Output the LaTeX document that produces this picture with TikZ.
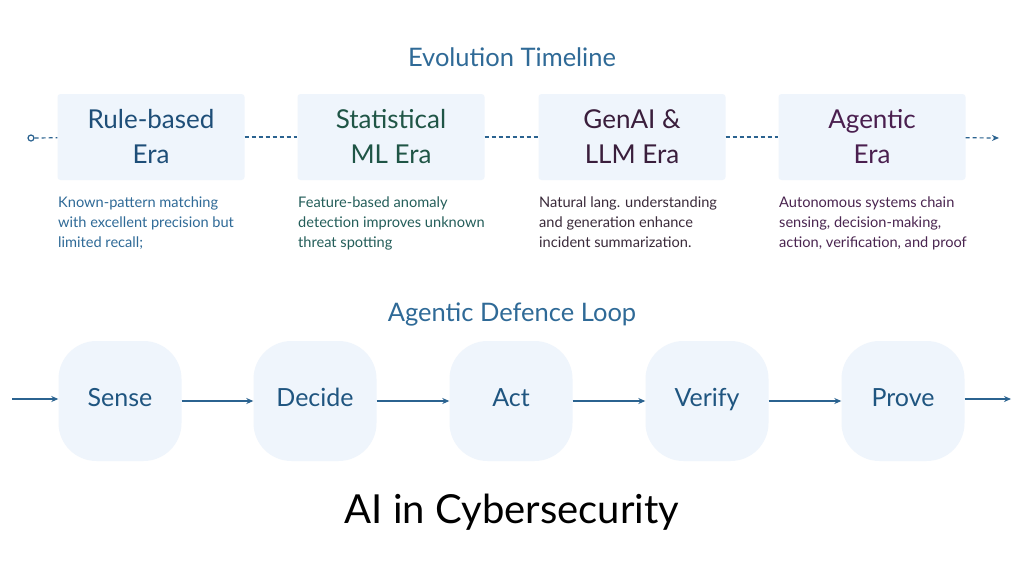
\documentclass[tikz,border=0pt]{standalone}
\usepackage{fontspec}
\setmainfont{Lato}
\usetikzlibrary{arrows.meta}

\definecolor{titleblue}{HTML}{2F6A97}
\definecolor{lineblue}{HTML}{2B6390}
\definecolor{boxfill}{HTML}{EFF5FC}
\definecolor{eraA}{HTML}{1E4E78}
\definecolor{eraB}{HTML}{1F5546}
\definecolor{eraC}{HTML}{3A1E3C}
\definecolor{eraD}{HTML}{4A1F4F}
\definecolor{descA}{HTML}{2F6A97}
\definecolor{descB}{HTML}{245E5A}
\definecolor{descC}{HTML}{3A2A3A}
\definecolor{descD}{HTML}{4A2550}
\definecolor{loopblue}{HTML}{1F5580}

\tikzset{
  heading/.style={text=titleblue, font=\fontsize{25.5}{30}\selectfont},
  erabox/.style={fill=boxfill, rounded corners=3pt, minimum width=187pt,
    minimum height=86pt, align=center, inner sep=0pt,
    font=\fontsize{26}{35}\selectfont},
  desc/.style={anchor=north west, align=left, inner sep=0pt,
    font=\fontsize{14.6}{20}\selectfont},
  loopbox/.style={fill=boxfill, rounded corners=38pt, minimum width=123pt,
    minimum height=120pt, text=loopblue, text height=1.26em, text depth=0.22em,
    font=\fontsize{25}{30}\selectfont},
  timeline/.style={draw=lineblue, line width=1.2pt, dash pattern=on 4pt off 3pt},
  dot/.style={circle, draw=lineblue, line width=1.2pt, fill=white,
    inner sep=0pt, minimum size=6pt},
  flow/.style={draw=lineblue, line width=1.4pt, -{Stealth[length=7pt,width=6pt]}}
}

\begin{document}
\begin{tikzpicture}[x=1pt, y=-1pt]
\useasboundingbox[fill=white] (0,0) rectangle (1024,576);

% Titre de la frise
\node[heading] (T1) at (512,57) {Evolution Timeline};

% Les ères
\foreach \n/\x/\c/\t in {1/151/eraA/{Rule-based\\Era},
                         2/391/eraB/{Statistical\\ML Era},
                         3/632/eraC/{GenAI \&\\LLM Era},
                         4/872/eraD/{Agentic\\Era}}
\node[erabox, text=\c] (E\n) at (\x,137) {\t};

% Les descriptions
\node[desc, text=descA] (D1) at (58,197) {Known-pattern matching\\with excellent precision but\\limited recall;};
\node[desc, text=descB] (D2) at (298,197) {Feature-based anomaly\\detection improves unknown\\threat spotting};
\node[desc, text=descC] (D3) at (539,197) {Natural lang. understanding\\and generation enhance\\incident summarization.};
\node[desc, text=descD] (D4) at (779,197) {Autonomous systems chain\\sensing, decision-making,\\action, verification, and proof};

% La ligne du temps
\node[dot] (start) at (31,138) {};
\coordinate (end) at (999,138);
\draw[timeline] (start) -- (E1);
\foreach \a/\b in {1/2, 2/3, 3/4}
\draw[timeline] (E\a) -- (E\b);
\draw[timeline, -{Stealth[length=7pt, width=6pt]}] (E4) -- (end);

% Titre de la boucle
\node[heading] (T2) at (512,314) {Agentic Defence Loop};

% Les étapes de la boucle
\foreach \n/\x/\t in {1/120/Sense, 2/315/Decide, 3/511/Act, 4/707/Verify, 5/903/Prove}
\node[loopbox] (S\n) at (\x,401) {\t};

% Les flèches
\coordinate (in) at (12,399);
\coordinate (out) at (1011,399);
\draw[flow] (in) -- (S1.west |- in);
\foreach \a/\b in {1/2, 2/3, 3/4, 4/5}
\draw[flow] (S\a) -- (S\b);
\draw[flow] (S5.east |- out) -- (out);

% Titre principal
\node[font=\fontsize{40}{46}\selectfont, text=black] (T3) at (512,512) {AI in Cybersecurity};

\end{tikzpicture}
\end{document}
